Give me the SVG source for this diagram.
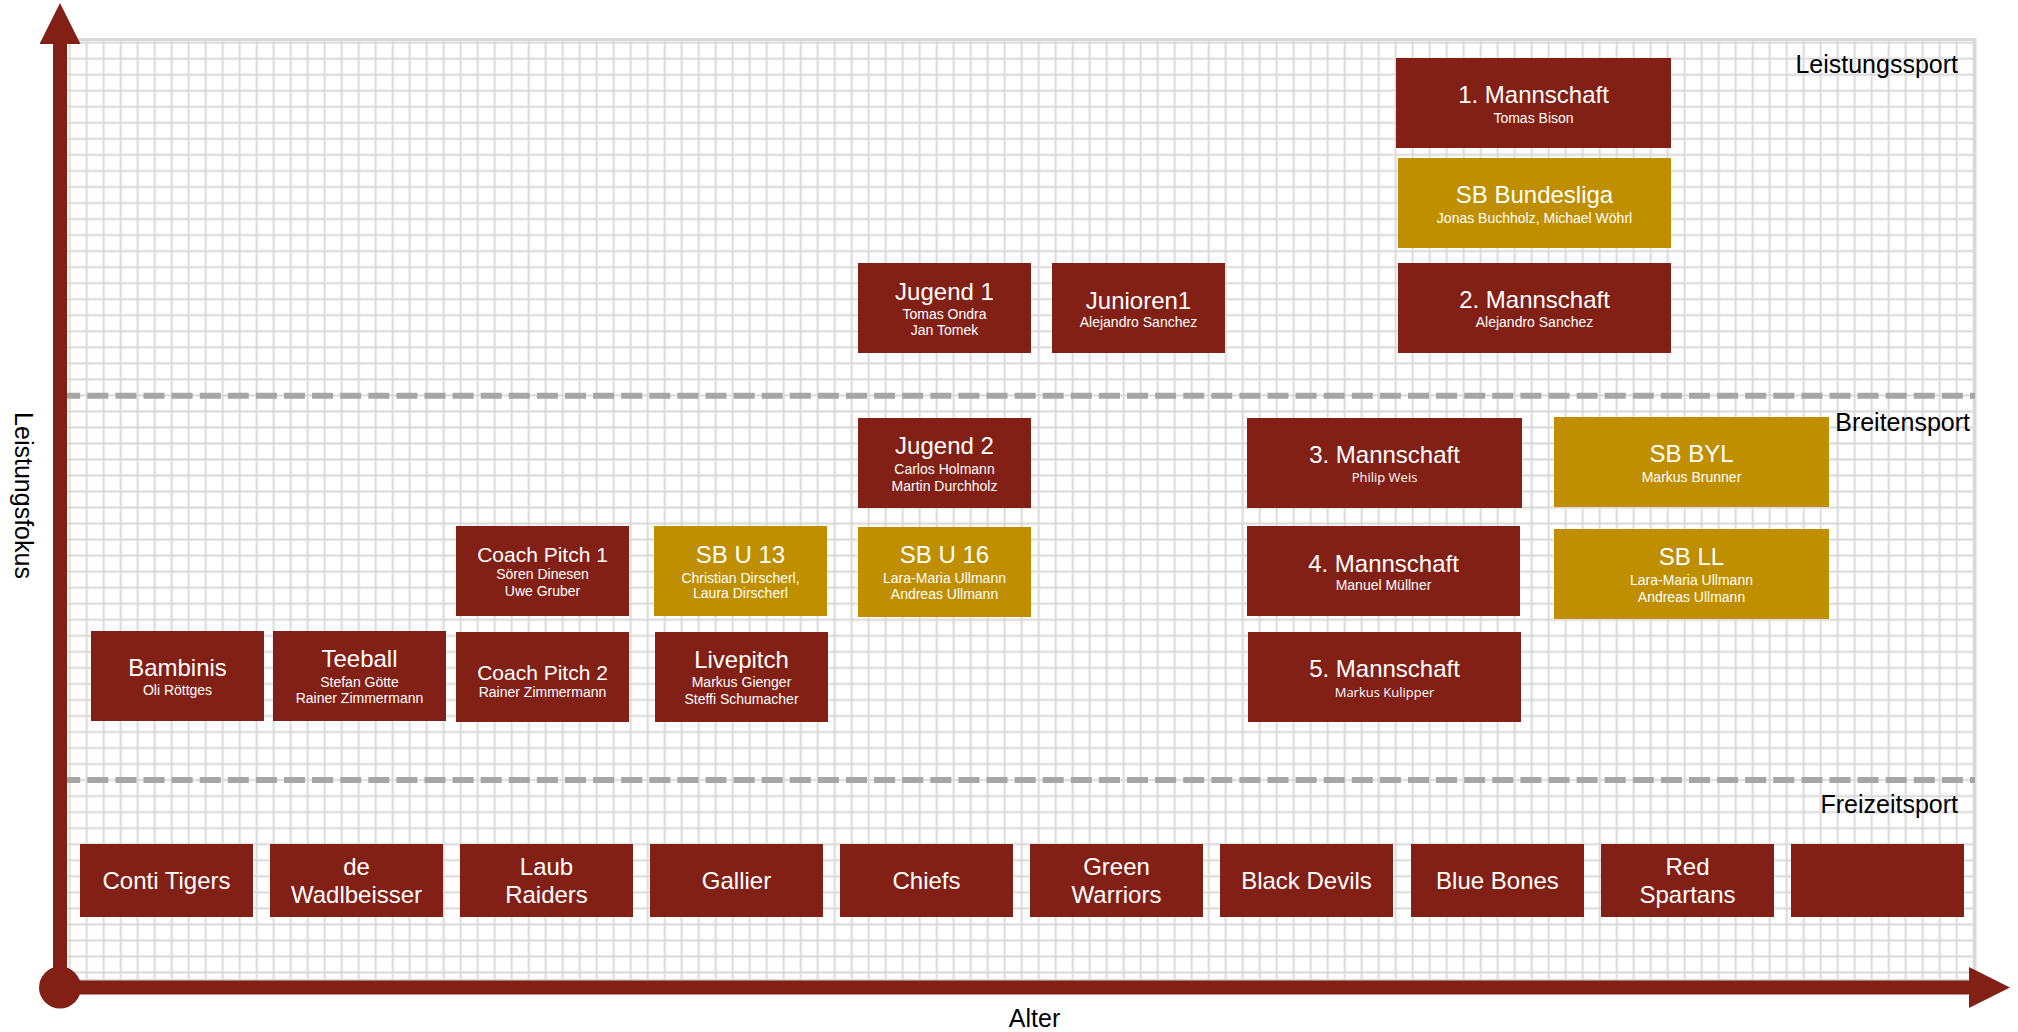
<svg xmlns="http://www.w3.org/2000/svg" width="2018" height="1032" viewBox="0 0 2018 1032">
<style>
.r{fill:#832016}
.g{fill:#BF8F00}
.t{font-family:"Liberation Sans",Arial,sans-serif;fill:#fff;text-anchor:middle}
.t1{font-size:24px}
.t3{font-size:21px}
.t2{font-size:14px}
.os{font-family:"Open Sans","Liberation Sans",sans-serif;font-size:13px}
.lbl{font-family:"Liberation Sans",Arial,sans-serif;font-size:25px;fill:#000}
.dash{stroke:#a6a6a6;stroke-width:6;stroke-dasharray:21 7.1;fill:none}
.axis{stroke:#832016;stroke-width:14;fill:none}
</style>
<defs>
<pattern id="grid" patternUnits="userSpaceOnUse" x="78.2" y="34.7" width="17" height="16.03">
<rect x="7.5" y="0" width="2" height="16.03" fill="#d9d9d9"/>
<rect x="0" y="7" width="17" height="2" fill="#d9d9d9"/>
</pattern>
<marker id="head" markerUnits="userSpaceOnUse" viewBox="0 0 41 41" refX="0" refY="20.5" markerWidth="41" markerHeight="41" orient="auto">
<path d="M0,0 L41,20.5 L0,41 Z" fill="#832016"/>
</marker>
</defs>
<rect width="2018" height="1032" fill="#fff"/>
<g id="background">
<rect x="60" y="39.5" width="1915" height="941" fill="url(#grid)" stroke="#d9d9d9" stroke-width="3"/>
<line class="dash" x1="59.2" y1="395.7" x2="1975" y2="395.7"/>
<line class="dash" x1="59.2" y1="780" x2="1975" y2="780"/>
</g>
<g id="labels">
<text class="lbl" x="1958" y="72.7" text-anchor="end">Leistungssport</text>
<text class="lbl" x="1970" y="431" text-anchor="end">Breitensport</text>
<text class="lbl" x="1958" y="813.3" text-anchor="end">Freizeitsport</text>
<text class="lbl" x="1034.5" y="1026.5" text-anchor="middle">Alter</text>
<text class="lbl" transform="translate(14.5,495.5) rotate(90)" text-anchor="middle">Leistungsfokus</text>
</g>
<g id="connectors">
<line class="axis" x1="60" y1="988" x2="60" y2="44" marker-end="url(#head)"/>
<line class="axis" x1="60" y1="987.5" x2="1969" y2="987.5" marker-end="url(#head)"/>
<circle cx="60" cy="987.5" r="21" fill="#832016"/>
</g>
<g id="n-1mannschaft"><rect class="r" x="1396" y="58" width="275" height="90"/><text class="t t1" x="1533.5" y="103">1. Mannschaft</text><text class="t t2" x="1533.5" y="123">Tomas Bison</text></g>
<g id="n-sbbundesliga"><rect class="g" x="1398" y="158" width="273" height="90"/><text class="t t1" x="1534.5" y="203.3">SB Bundesliga</text><text class="t t2" x="1534.5" y="222.7">Jonas Buchholz, Michael Wöhrl</text></g>
<g id="n-2mannschaft"><rect class="r" x="1398" y="263" width="273" height="90"/><text class="t t1" x="1534.5" y="308.3">2. Mannschaft</text><text class="t t2" x="1534.5" y="327.3">Alejandro Sanchez</text></g>
<g id="n-jugend1"><rect class="r" x="858" y="263" width="173" height="90"/><text class="t t1" x="944.5" y="300">Jugend 1</text><text class="t t2" x="944.5" y="319.3">Tomas Ondra</text><text class="t t2" x="944.5" y="335">Jan Tomek</text></g>
<g id="n-junioren1"><rect class="r" x="1052" y="263" width="173" height="90"/><text class="t t1" x="1138.5" y="309">Junioren1</text><text class="t t2" x="1138.5" y="327.3">Alejandro Sanchez</text></g>
<g id="n-jugend2"><rect class="r" x="858" y="418" width="173" height="90"/><text class="t t1" x="944.5" y="454.3">Jugend 2</text><text class="t t2" x="944.5" y="474">Carlos Holmann</text><text class="t t2" x="944.5" y="490.7">Martin Durchholz</text></g>
<g id="n-sbu16"><rect class="g" x="858" y="527" width="173" height="90"/><text class="t t1" x="944.5" y="563.3">SB U 16</text><text class="t t2" x="944.5" y="582.7">Lara-Maria Ullmann</text><text class="t t2" x="944.5" y="599">Andreas Ullmann</text></g>
<g id="n-3mannschaft"><rect class="r" x="1247" y="418" width="275" height="90"/><text class="t t1" x="1384.5" y="463.3">3. Mannschaft</text><text class="t os" x="1384.5" y="481.7">Philip Weis</text></g>
<g id="n-4mannschaft"><rect class="r" x="1247" y="526" width="273" height="90"/><text class="t t1" x="1383.5" y="571.7">4. Mannschaft</text><text class="t t2" x="1383.5" y="590">Manuel Müllner</text></g>
<g id="n-5mannschaft"><rect class="r" x="1248" y="632" width="273" height="90"/><text class="t t1" x="1384.5" y="676.7">5. Mannschaft</text><text class="t os" x="1384.5" y="696.7">Markus Kulipper</text></g>
<g id="n-sbbyl"><rect class="g" x="1554" y="417" width="275" height="90"/><text class="t t1" x="1691.5" y="462.3">SB BYL</text><text class="t t2" x="1691.5" y="481.7">Markus Brunner</text></g>
<g id="n-sbll"><rect class="g" x="1554" y="529" width="275" height="90"/><text class="t t1" x="1691.5" y="565">SB LL</text><text class="t t2" x="1691.5" y="585">Lara-Maria Ullmann</text><text class="t t2" x="1691.5" y="601.7">Andreas Ullmann</text></g>
<g id="n-coachpitch1"><rect class="r" x="456" y="526" width="173" height="90"/><text class="t t3" x="542.5" y="561.7">Coach Pitch 1</text><text class="t t2" x="542.5" y="579.3">Sören Dinesen</text><text class="t t2" x="542.5" y="596">Uwe Gruber</text></g>
<g id="n-sbu13"><rect class="g" x="654" y="526" width="173" height="90"/><text class="t t1" x="740.5" y="562.7">SB U 13</text><text class="t t2" x="740.5" y="582.7">Christian Dirscherl,</text><text class="t t2" x="740.5" y="598.3">Laura Dirscherl</text></g>
<g id="n-bambinis"><rect class="r" x="91" y="631" width="173" height="90"/><text class="t t1" x="177.5" y="676">Bambinis</text><text class="t t2" x="177.5" y="695">Oli Röttges</text></g>
<g id="n-teeball"><rect class="r" x="273" y="631" width="173" height="90"/><text class="t t1" x="359.5" y="667">Teeball</text><text class="t t2" x="359.5" y="687">Stefan Götte</text><text class="t t2" x="359.5" y="703">Rainer Zimmermann</text></g>
<g id="n-coachpitch2"><rect class="r" x="456" y="632" width="173" height="90"/><text class="t t3" x="542.5" y="680">Coach Pitch 2</text><text class="t t2" x="542.5" y="697.3">Rainer Zimmermann</text></g>
<g id="n-livepitch"><rect class="r" x="655" y="632" width="173" height="90"/><text class="t t1" x="741.5" y="668.3">Livepitch</text><text class="t t2" x="741.5" y="687.3">Markus Gienger</text><text class="t t2" x="741.5" y="704.3">Steffi Schumacher</text></g>
<g id="n-contitigers"><rect class="r" x="80" y="844" width="173" height="73"/><text class="t t1" x="166.5" y="889">Conti Tigers</text></g>
<g id="n-wadlbeisser"><rect class="r" x="270" y="844" width="173" height="73"/><text class="t t1" x="356.5" y="875">de</text><text class="t t1" x="356.5" y="903">Wadlbeisser</text></g>
<g id="n-laubraiders"><rect class="r" x="460" y="844" width="173" height="73"/><text class="t t1" x="546.5" y="875">Laub</text><text class="t t1" x="546.5" y="903">Raiders</text></g>
<g id="n-gallier"><rect class="r" x="650" y="844" width="173" height="73"/><text class="t t1" x="736.5" y="889">Gallier</text></g>
<g id="n-chiefs"><rect class="r" x="840" y="844" width="173" height="73"/><text class="t t1" x="926.5" y="889">Chiefs</text></g>
<g id="n-greenwarriors"><rect class="r" x="1030" y="844" width="173" height="73"/><text class="t t1" x="1116.5" y="875">Green</text><text class="t t1" x="1116.5" y="903">Warriors</text></g>
<g id="n-blackdevils"><rect class="r" x="1220" y="844" width="173" height="73"/><text class="t t1" x="1306.5" y="889">Black Devils</text></g>
<g id="n-bluebones"><rect class="r" x="1411" y="844" width="173" height="73"/><text class="t t1" x="1497.5" y="889">Blue Bones</text></g>
<g id="n-redspartans"><rect class="r" x="1601" y="844" width="173" height="73"/><text class="t t1" x="1687.5" y="875">Red</text><text class="t t1" x="1687.5" y="903">Spartans</text></g>
<g id="n-empty"><rect class="r" x="1791" y="844" width="173" height="73"/></g>
</svg>
